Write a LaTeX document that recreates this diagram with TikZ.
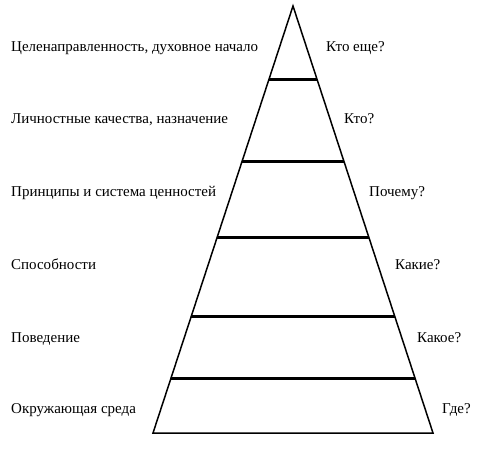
\documentclass[tikz,border=0pt]{standalone}
\usepackage{fontspec}
\setmainfont{Liberation Serif}
\usetikzlibrary{calc}
\begin{document}
\begin{tikzpicture}[x=1bp,y=-1bp,
  edge/.style={line width=1.5bp, line join=miter},
  level/.style={line width=3bp},
  lbl/.style={anchor=base west, inner sep=0pt, font=\fontsize{15bp}{18bp}\selectfont}]
\useasboundingbox (0,0) rectangle (479,450);
\coordinate (apex) at (293,6);
\coordinate (bl) at (153,433);
\coordinate (br) at (433,433);
\draw[edge] (bl) -- (apex) -- (br) -- cycle;
\foreach \t/\n in {0.1733/a, 0.3642/b, 0.5422/c, 0.726/d, 0.8724/e}{
  \coordinate (l\n) at ($(apex)!\t!(bl)$);
  \coordinate (r\n) at ($(apex)!\t!(br)$);
  \draw[level] (l\n) -- (r\n);
}
\node[lbl] (t1) at (11,52) {Целенаправленность, духовное начало};
\node[lbl] (t2) at (11,124) {Личностные качества, назначение};
\node[lbl] (t3) at (11,197) {Принципы и система ценностей};
\node[lbl] (t4) at (11,269) {Способности};
\node[lbl] (t5) at (11,342) {Поведение};
\node[lbl] (t6) at (11,413) {Окружающая среда};
\node[lbl] (q1) at (326,52) {Кто еще?};
\node[lbl] (q2) at (344,124) {Кто?};
\node[lbl] (q3) at (369,197) {Почему?};
\node[lbl] (q4) at (395,269) {Какие?};
\node[lbl] (q5) at (417,342) {Какое?};
\node[lbl] (q6) at (442,413) {Где?};
\end{tikzpicture}
\end{document}
